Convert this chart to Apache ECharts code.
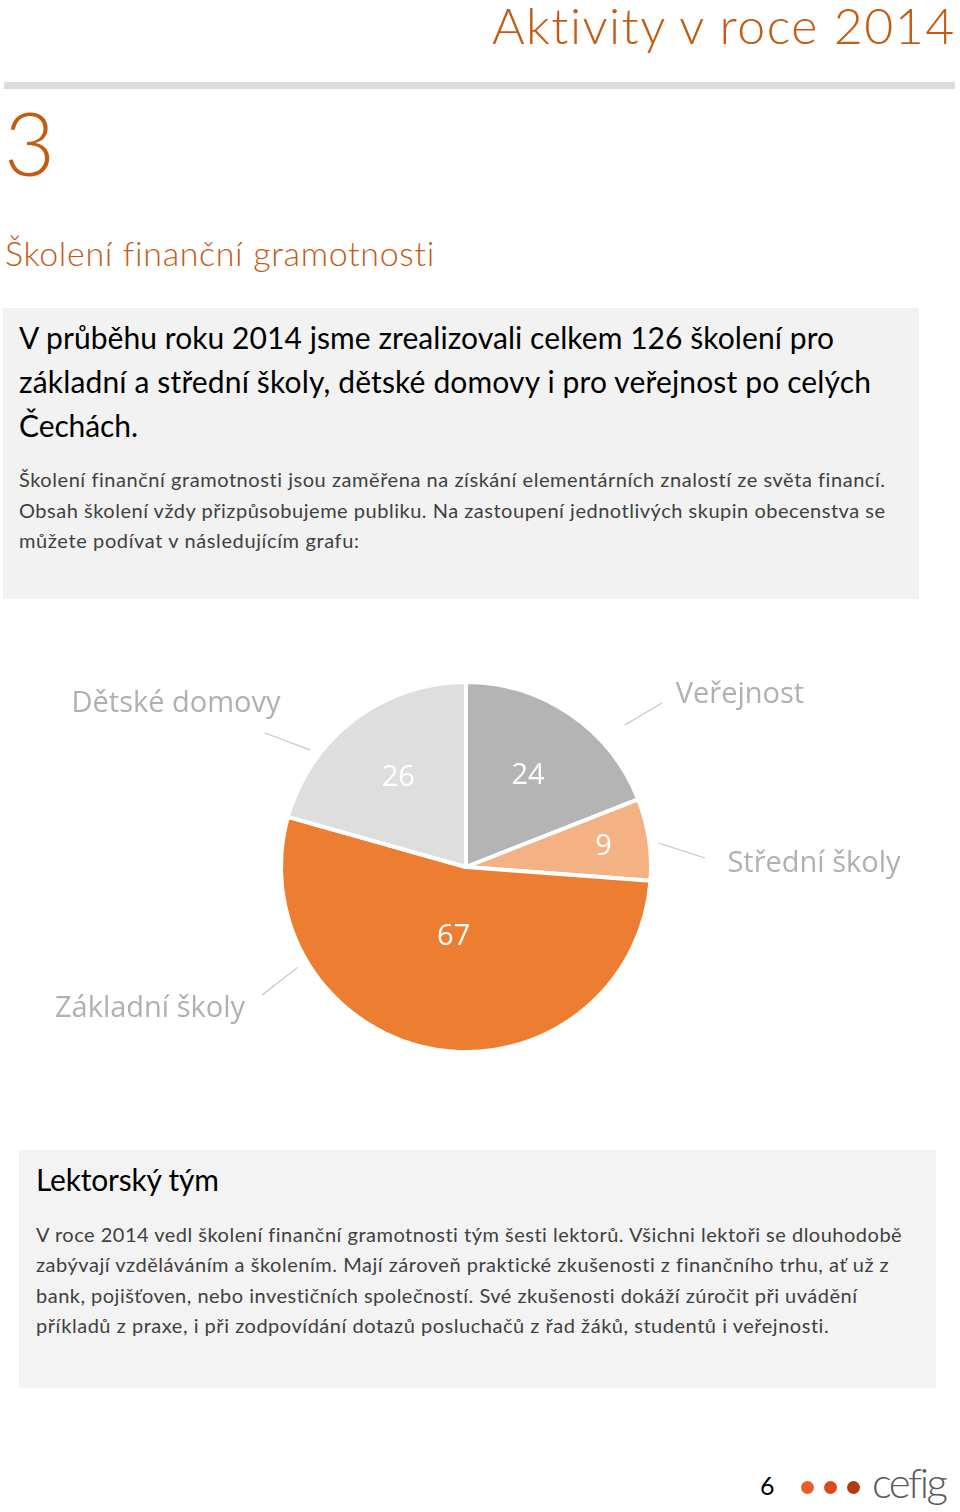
<!DOCTYPE html>
<html>
<head>
<meta charset="utf-8">
<script src="https://cdn.jsdelivr.net/npm/echarts@6/dist/echarts.min.js"></script>
<style>
  html, body { margin:0; padding:0; background:#fff; }
  #page { position:relative; width:960px; height:1512px; overflow:hidden; font-family: Lato, "Noto Sans", sans-serif; }
  .ln { position:absolute; white-space:nowrap; line-height:1; }
  .box { position:absolute; background:#f2f2f2; }
  #chart { position:absolute; left:0; top:0; width:960px; height:1512px; z-index:2; }
  .dot { position:absolute; width:13px; height:13px; border-radius:50%; }
</style>
</head>
<body>
<div id="page">
  <div class="box" style="left:4px;top:82px;width:951px;height:7px;background:#dcdcdc;"></div>
  <div class="box" style="left:3px;top:308px;width:916px;height:291px;"></div>
  <div class="box" style="left:19px;top:1150px;width:917px;height:238px;background:#f3f3f3;"></div>
  <div id="lines"></div>
  <div class="dot" style="left:801px;top:1481px;background:#ee5a2a;"></div>
  <div class="dot" style="left:824px;top:1481px;background:#dc4a1c;"></div>
  <div class="dot" style="left:847px;top:1481px;background:#b33b13;"></div>
  <div id="chart"></div>
</div>
<script>
// ---- data ----
const categories = ['Veřejnost', 'Střední školy', 'Základní školy', 'Dětské domovy'];
const values = [24, 9, 67, 26];

// ---- styles / layout (not data) ----
const sliceColors = ['#b4b4b4', '#f4b183', '#ed7d31', '#dedede'];
const innerLabelRadius = [110, 139, 71, 112];          // distance of value label from centre
const outerLabelCentre = [[740, 695], [814, 864], [150, 1009], [176, 704]];
// leader lines: start angle (deg from 12 o'clock), start radius, outer end point
const leaderStartDeg = [48.2, 82.9, 239.2, 306.9];
const leaderStartR = [213, 194, 196, 195];
const leaderEnd = [[662, 703], [705, 858], [262, 995], [265, 733]];
const pieCentre = [466, 867];
const pieRadius = 185;

// ---- page text ----
const textLines = [
  // text, left, centreY, size, targetWidth, color, weight
  ['Aktivity v roce 2014', 492, 28, 50, 463, '#c55a11', 300],
  ['3', 4, 146, 88, 40, '#c55a11', 300],
  ['Školení finanční gramotnosti', 5, 255, 34, 429, '#c55a11', 300],
  ['V průběhu roku 2014 jsme zrealizovali celkem 126 školení pro', 19, 338, 30, 815, '#000', 400],
  ['základní a střední školy, dětské domovy i pro veřejnost po celých', 19, 382, 30, 852, '#000', 400],
  ['Čechách.', 19, 426, 30, 119, '#000', 400],
  ['Školení finanční gramotnosti jsou zaměřena na získání elementárních znalostí ze světa financí.', 19, 480, 20, 866, '#404040', 400],
  ['Obsah školení vždy přizpůsobujeme publiku. Na zastoupení jednotlivých skupin obecenstva se', 19, 511, 20, 866, '#404040', 400],
  ['můžete podívat v následujícím grafu:', 19, 541, 20, 340, '#404040', 400],
  ['Lektorský tým', 36, 1180, 30, 183, '#000', 400],
  ['V roce 2014 vedl školení finanční gramotnosti tým šesti lektorů. Všichni lektoři se dlouhodobě', 36, 1235, 20, 866, '#404040', 400],
  ['zabývají vzděláváním a školením. Mají zároveň praktické zkušenosti z finančního trhu, ať už z', 36, 1265, 20, 853, '#404040', 400],
  ['bank, pojišťoven, nebo investičních společností. Své zkušenosti dokáží zúročit při uvádění', 36, 1296, 20, 822, '#404040', 400],
  ['příkladů z praxe, i při zodpovídání dotazů posluchačů z řad žáků, studentů i veřejnosti.', 36, 1326, 20, 793, '#404040', 400],
  ['6', 760, 1487, 25, 15, '#000', 400],
  ['cefig', 872, 1484, 42, 75, '#5a5a5a', 300]
];

const holder = document.getElementById('lines');
textLines.forEach(function (t) {
  const d = document.createElement('div');
  d.className = 'ln';
  d.textContent = t[0];
  d.style.left = t[1] + 'px';
  d.style.fontSize = t[3] + 'px';
  d.style.color = t[5];
  d.style.fontWeight = t[6];
  d.style.top = (t[2] - t[3] * 0.55) + 'px';
  holder.appendChild(d);
  const w = d.getBoundingClientRect().width;
  const n = t[0].length;
  if (n > 1) {
    const ls = (t[4] - w) / (n - 1);
    d.style.letterSpacing = ls.toFixed(3) + 'px';
  }
});

// ---- angles from data ----
const total = values.reduce(function (a, b) { return a + b; }, 0);
const midAngles = [];
(function () {
  let acc = 0;
  values.forEach(function (v) {
    midAngles.push((acc + v / 2) / total * 2 * Math.PI);
    acc += v;
  });
})();

const chart = echarts.init(document.getElementById('chart'), null, { renderer: 'canvas' });
const pieData = categories.map(function (c, i) {
  return { name: c, value: values[i], itemStyle: { color: sliceColors[i] } };
});

chart.setOption({
  backgroundColor: 'transparent',
  animation: false,
  series: [
    {
      type: 'pie',
      center: pieCentre,
      radius: [0, pieRadius],
      startAngle: 90,
      clockwise: true,
      avoidLabelOverlap: false,
      silent: true,
      itemStyle: { borderColor: '#ffffff', borderWidth: 4 },
      label: {
        show: true,
        position: 'inside',
        formatter: '{c}',
        color: '#ffffff',
        fontSize: 29,
        fontFamily: '"Open Sans", Lato, sans-serif'
      },
      labelLine: { show: false },
      labelLayout: function (p) {
        const a = midAngles[p.dataIndex];
        const r = innerLabelRadius[p.dataIndex];
        return {
          x: pieCentre[0] + r * Math.sin(a),
          y: pieCentre[1] - r * Math.cos(a),
          align: 'center',
          verticalAlign: 'middle'
        };
      },
      data: pieData,
      z: 2
    },
    {
      type: 'pie',
      center: pieCentre,
      radius: [0, pieRadius],
      startAngle: 90,
      clockwise: true,
      avoidLabelOverlap: false,
      silent: true,
      itemStyle: { color: 'rgba(0,0,0,0)', borderWidth: 0 },
      label: {
        show: true,
        position: 'outside',
        formatter: '{b}',
        color: '#b0b0b0',
        fontSize: 29,
        fontFamily: '"Open Sans", Lato, sans-serif'
      },
      labelLine: { show: true, length: 20, length2: 10, lineStyle: { color: '#c4c4c4', width: 1.2 } },
      labelLayout: function (p) {
        const i = p.dataIndex;
        const c = outerLabelCentre[i];
        const a = leaderStartDeg[i] * Math.PI / 180;
        const sx = pieCentre[0] + leaderStartR[i] * Math.sin(a);
        const sy = pieCentre[1] - leaderStartR[i] * Math.cos(a);
        const e = leaderEnd[i];
        return {
          x: c[0],
          y: c[1],
          align: 'center',
          verticalAlign: 'middle',
          labelLinePoints: [[sx, sy], [(sx + e[0]) / 2, (sy + e[1]) / 2], [e[0], e[1]]]
        };
      },
      data: categories.map(function (c, i) { return { name: c, value: values[i] }; }),
      z: 1
    }
  ]
});
</script>
</body>
</html>
